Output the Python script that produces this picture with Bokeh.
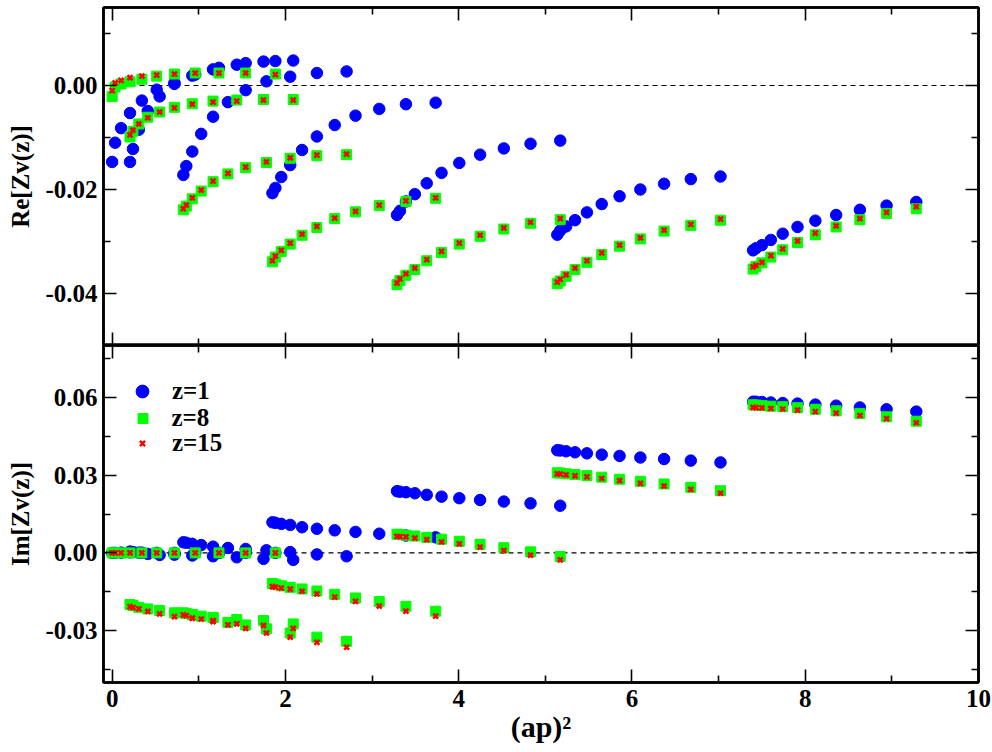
from bokeh.plotting import figure
from bokeh.models import (Range1d, LinearAxis, FixedTicker, Span, Legend, LegendItem,
                          PrintfTickFormatter, CustomJSTickFormatter)
from bokeh.layouts import column
from bokeh.embed import file_html
from bokeh.resources import INLINE

FONT = "Liberation Serif"

# ---- x positions, (ap)^2, for each momentum branch (shared by all series) ----
x_k0 = [0.000, 0.034, 0.103, 0.206, 0.343, 0.514, 0.719, 0.959, 1.233, 1.541, 1.884]
x_k1 = [0.206, 0.240, 0.308, 0.411, 0.548, 0.719, 0.925, 1.164, 1.438, 1.747, 2.090]
x_k2 = [0.822, 0.856, 0.925, 1.028, 1.165, 1.336, 1.541, 1.781, 2.055, 2.363, 2.706]
x_k3 = [1.850, 1.884, 1.952, 2.055, 2.192, 2.363, 2.569, 2.809, 3.083, 3.391, 3.734]
x_k4 = [3.288, 3.322, 3.391, 3.494, 3.631, 3.802, 4.007, 4.247, 4.521, 4.829, 5.172]
x_k5 = [5.138, 5.172, 5.240, 5.343, 5.480, 5.651, 5.857, 6.097, 6.371, 6.679, 7.022]
x_k6 = [7.398, 7.432, 7.500, 7.603, 7.740, 7.911, 8.117, 8.357, 8.631, 8.939, 9.282]

# ---- Re[Zv(z)] ----
re1_k0 = [-0.0147, -0.0110, -0.0082, -0.0053, -0.0029, -0.0008, 0.0005, 0.0021, 0.0034, 0.0043, 0.0047]
re1_k1 = [-0.0147, -0.0122, -0.0085, -0.0049, -0.0021, 0.0003, 0.0019, 0.0031, 0.0040, 0.0046, 0.0048]
re1_k2 = [-0.0172, -0.0155, -0.0127, -0.0093, -0.0060, -0.0032, -0.0009, 0.0008, 0.0017, 0.0024, 0.0027]
re1_k3 = [-0.0207, -0.0197, -0.0176, -0.0153, -0.0124, -0.0098, -0.0076, -0.0058, -0.0045, -0.0036, -0.0033]
re1_k4 = [-0.0249, -0.0241, -0.0223, -0.0209, -0.0188, -0.0168, -0.0149, -0.0133, -0.0121, -0.0112, -0.0106]
re1_k5 = [-0.0287, -0.0279, -0.0271, -0.0259, -0.0244, -0.0228, -0.0213, -0.0200, -0.0189, -0.0180, -0.0175]
re1_k6 = [-0.0317, -0.0313, -0.0307, -0.0297, -0.0285, -0.0272, -0.0260, -0.0249, -0.0239, -0.0231, -0.0224]

re8_k0 = [-0.0021, -0.0003, 0.0003, 0.0007, 0.0012, 0.0018, 0.0022, 0.0024, 0.0024, 0.0024, 0.0022]
re8_k1 = [-0.0099, -0.0088, -0.0074, -0.0061, -0.0051, -0.0042, -0.0035, -0.0030, -0.0028, -0.0027, -0.0027]
re8_k2 = [-0.0239, -0.0232, -0.0218, -0.0203, -0.0185, -0.0170, -0.0158, -0.0148, -0.0140, -0.0135, -0.0133]
re8_k3 = [-0.0339, -0.0330, -0.0319, -0.0305, -0.0288, -0.0273, -0.0256, -0.0243, -0.0231, -0.0223, -0.0217]
re8_k4 = [-0.0383, -0.0375, -0.0365, -0.0354, -0.0337, -0.0321, -0.0305, -0.0290, -0.0276, -0.0265, -0.0258]
re8_k5 = [-0.0381, -0.0376, -0.0367, -0.0354, -0.0340, -0.0325, -0.0309, -0.0295, -0.0280, -0.0269, -0.0259]
re8_k6 = [-0.0353, -0.0348, -0.0341, -0.0330, -0.0316, -0.0302, -0.0287, -0.0272, -0.0258, -0.0246, -0.0237]

re15_k0 = [-0.0010, 0.0005, 0.0010, 0.0015, 0.0018, 0.0020, 0.0022, 0.0024, 0.0024, 0.0024, 0.0021]
re15_k1 = [-0.0095, -0.0086, -0.0074, -0.0062, -0.0051, -0.0043, -0.0036, -0.0032, -0.0030, -0.0028, -0.0028]
re15_k2 = [-0.0237, -0.0230, -0.0216, -0.0201, -0.0184, -0.0169, -0.0157, -0.0147, -0.0139, -0.0134, -0.0132]
re15_k3 = [-0.0337, -0.0328, -0.0317, -0.0303, -0.0286, -0.0271, -0.0255, -0.0242, -0.0230, -0.0222, -0.0216]
re15_k4 = [-0.0380, -0.0372, -0.0362, -0.0351, -0.0335, -0.0319, -0.0303, -0.0288, -0.0274, -0.0263, -0.0256]
re15_k5 = [-0.0378, -0.0373, -0.0364, -0.0351, -0.0337, -0.0322, -0.0307, -0.0293, -0.0278, -0.0267, -0.0257]
re15_k6 = [-0.0349, -0.0346, -0.0340, -0.0327, -0.0314, -0.0299, -0.0284, -0.0270, -0.0256, -0.0244, -0.0233]

# ---- Im[Zv(z)] ----
im1_k0 = [0.0000, 0.0000, 0.0001, 0.0002, 0.0001, 0.0000, 0.0000, 0.0000, 0.0000, 0.0000, 0.0000]
im1_k1 = [0.0005, 0.0003, 0.0001, -0.0004, -0.0008, -0.0007, -0.0010, -0.0013, -0.0017, -0.0023, -0.0027]
im1_k2 = [0.0041, 0.0039, 0.0035, 0.0030, 0.0024, 0.0019, 0.0015, 0.0010, 0.0003, -0.0006, -0.0013]
im1_k3 = [0.0118, 0.0116, 0.0112, 0.0108, 0.0099, 0.0093, 0.0087, 0.0081, 0.0074, 0.0067, 0.0060]
im1_k4 = [0.0238, 0.0236, 0.0234, 0.0230, 0.0224, 0.0217, 0.0211, 0.0204, 0.0198, 0.0191, 0.0182]
im1_k5 = [0.0396, 0.0395, 0.0392, 0.0388, 0.0384, 0.0379, 0.0374, 0.0368, 0.0362, 0.0356, 0.0349]
im1_k6 = [0.0583, 0.0583, 0.0582, 0.0580, 0.0578, 0.0576, 0.0572, 0.0568, 0.0561, 0.0554, 0.0545]

im8_k0 = [0.0000, 0.0000, 0.0000, 0.0000, 0.0000, 0.0000, 0.0000, 0.0000, 0.0000, 0.0000, 0.0000]
im8_k1 = [-0.0199, -0.0203, -0.0210, -0.0216, -0.0222, -0.0231, -0.0237, -0.0249, -0.0257, -0.0261, -0.0274]
im8_k2 = [-0.0231, -0.0234, -0.0239, -0.0244, -0.0249, -0.0268, -0.0278, -0.0293, -0.0309, -0.0325, -0.0341]
im8_k3 = [-0.0118, -0.0121, -0.0127, -0.0133, -0.0139, -0.0147, -0.0160, -0.0174, -0.0188, -0.0206, -0.0225]
im8_k4 = [0.0072, 0.0071, 0.0068, 0.0065, 0.0060, 0.0053, 0.0045, 0.0033, 0.0020, 0.0004, -0.0014]
im8_k5 = [0.0309, 0.0308, 0.0305, 0.0302, 0.0298, 0.0292, 0.0284, 0.0276, 0.0266, 0.0253, 0.0240]
im8_k6 = [0.0571, 0.0570, 0.0568, 0.0566, 0.0564, 0.0560, 0.0554, 0.0548, 0.0538, 0.0525, 0.0508]

im15_k0 = [0.0000, 0.0000, 0.0000, 0.0000, 0.0000, 0.0000, 0.0000, 0.0000, 0.0000, 0.0000, 0.0000]
im15_k1 = [-0.0207, -0.0211, -0.0216, -0.0226, -0.0235, -0.0246, -0.0252, -0.0265, -0.0274, -0.0280, -0.0291]
im15_k2 = [-0.0239, -0.0242, -0.0252, -0.0255, -0.0261, -0.0278, -0.0291, -0.0309, -0.0325, -0.0345, -0.0364]
im15_k3 = [-0.0130, -0.0132, -0.0136, -0.0140, -0.0148, -0.0158, -0.0171, -0.0187, -0.0205, -0.0225, -0.0244]
im15_k4 = [0.0064, 0.0063, 0.0062, 0.0057, 0.0051, 0.0042, 0.0035, 0.0022, 0.0009, -0.0009, -0.0027]
im15_k5 = [0.0305, 0.0304, 0.0301, 0.0297, 0.0293, 0.0287, 0.0279, 0.0268, 0.0258, 0.0245, 0.0230]
im15_k6 = [0.0561, 0.0560, 0.0559, 0.0557, 0.0555, 0.0551, 0.0545, 0.0539, 0.0530, 0.0518, 0.0502]

x_ticks = [0, 2, 4, 6, 8, 10]
x_minor = [1, 3, 5, 7, 9]
re_ticks = [-0.04, -0.02, 0.00]
re_minor = [-0.05, -0.03, -0.01, 0.01]
im_ticks = [-0.03, 0.00, 0.03, 0.06]
im_minor = [-0.045, -0.015, 0.015, 0.045, 0.075]

labels = ["z=1", "z=8", "z=15"]

xs = x_k0 + x_k1 + x_k2 + x_k3 + x_k4 + x_k5 + x_k6
re_series = [
    re1_k0 + re1_k1 + re1_k2 + re1_k3 + re1_k4 + re1_k5 + re1_k6,
    re8_k0 + re8_k1 + re8_k2 + re8_k3 + re8_k4 + re8_k5 + re8_k6,
    re15_k0 + re15_k1 + re15_k2 + re15_k3 + re15_k4 + re15_k5 + re15_k6,
]
im_series = [
    im1_k0 + im1_k1 + im1_k2 + im1_k3 + im1_k4 + im1_k5 + im1_k6,
    im8_k0 + im8_k1 + im8_k2 + im8_k3 + im8_k4 + im8_k5 + im8_k6,
    im15_k0 + im15_k1 + im15_k2 + im15_k3 + im15_k4 + im15_k5 + im15_k6,
]

TICK_PX = "25px"
BLANK = CustomJSTickFormatter(code="return ''")


def style_axis(ax, ticks, minor, show_labels, fmt="%.2f"):
    ax.ticker = FixedTicker(ticks=ticks, minor_ticks=minor)
    ax.axis_line_color = "black"
    ax.axis_line_width = 2.5
    ax.major_tick_in = 13
    ax.major_tick_out = 0
    ax.minor_tick_in = 7
    ax.minor_tick_out = 0
    ax.major_tick_line_width = 1.6
    ax.minor_tick_line_width = 1.6
    ax.major_tick_line_color = "black"
    ax.minor_tick_line_color = "black"
    ax.major_label_text_font = FONT
    ax.major_label_text_font_style = "bold"
    ax.major_label_text_color = "black"
    ax.axis_label_text_font = FONT
    ax.axis_label_text_font_style = "bold"
    ax.axis_label_text_color = "black"
    if show_labels:
        ax.formatter = PrintfTickFormatter(format=fmt)
        ax.major_label_text_font_size = TICK_PX
    else:
        ax.formatter = BLANK
        ax.major_label_text_font_size = "1px"
        ax.major_label_standoff = 0


def make_fig(y0, y1, height, top, bottom):
    p = figure(width=992, height=height, x_range=Range1d(-0.1, 10), y_range=Range1d(y0, y1),
               output_backend="svg", toolbar_location=None,
               x_axis_location=None, y_axis_location=None,
               min_border_left=103, min_border_right=14,
               min_border_top=top, min_border_bottom=bottom)
    p.xgrid.visible = False
    p.ygrid.visible = False
    p.outline_line_color = "black"
    p.outline_line_width = 2.5
    p.background_fill_color = "white"
    p.border_fill_color = "white"
    p.add_layout(Span(location=0, dimension="width", line_color="black",
                      line_width=1.2, line_dash="5 4", level="underlay"))
    return p


def add_axes(p, yticks, yminor, ylabel, show_x):
    left = LinearAxis(axis_label=ylabel)
    right = LinearAxis()
    above = LinearAxis()
    below = LinearAxis()
    p.add_layout(left, "left")
    p.add_layout(right, "right")
    p.add_layout(above, "above")
    p.add_layout(below, "below")
    style_axis(left, yticks, yminor, True)
    style_axis(right, yticks, yminor, False)
    style_axis(above, x_ticks, x_minor, False)
    style_axis(below, x_ticks, x_minor, show_x, fmt="%d")
    left.axis_label_text_font_size = "25px"
    left.major_label_standoff = 6
    left.axis_label_standoff = 8
    return below


def add_series(p, ys_list):
    rs = []
    rs.append(p.scatter(xs, ys_list[0], marker="circle", size=11.5,
                        fill_color="#0000ff", line_color="#0000ff"))
    rs.append(p.scatter(xs, ys_list[1], marker="square", size=10,
                        fill_color="#00ff00", line_color="#00ff00"))
    rs.append(p.scatter(xs, ys_list[2], marker="x", size=7,
                        line_color="#ff0000", line_width=2.5))
    return rs


# ---------------- top panel: Re ----------------
top = make_fig(-0.05, 0.015, 345, 7, 0)
add_axes(top, re_ticks, re_minor, "Re[Zv(z)]", False)
add_series(top, re_series)

# ---------------- bottom panel: Im ----------------
bot = make_fig(-0.05, 0.08, 406, 0, 69)
below = add_axes(bot, im_ticks, im_minor, "Im[Zv(z)]", True)
below.axis_label = "(ap)²"
below.major_label_standoff = 7
below.axis_label_standoff = 0
below.axis_label_text_font_size = "30px"
rs = add_series(bot, im_series)

# legend: one small legend per entry so each marker keeps its own size
glyph_w = [32, 25, 18]
loc_y = [275, 248, 223]
for r, lab, w, yy in zip(rs, labels, glyph_w, loc_y):
    lg = Legend(items=[LegendItem(label=lab, renderers=[r])],
                location=(39 - w / 2, yy), padding=0, margin=0,
                glyph_width=w, glyph_height=32, label_height=32,
                label_standoff=int(30 - w / 2), spacing=0,
                border_line_color=None, background_fill_alpha=0,
                label_text_font=FONT, label_text_font_style="bold",
                label_text_font_size="25px", label_text_color="black")
    bot.add_layout(lg, "center")

layout = column(top, bot, spacing=0)
open("out.html", "w").write(file_html(layout, INLINE))
